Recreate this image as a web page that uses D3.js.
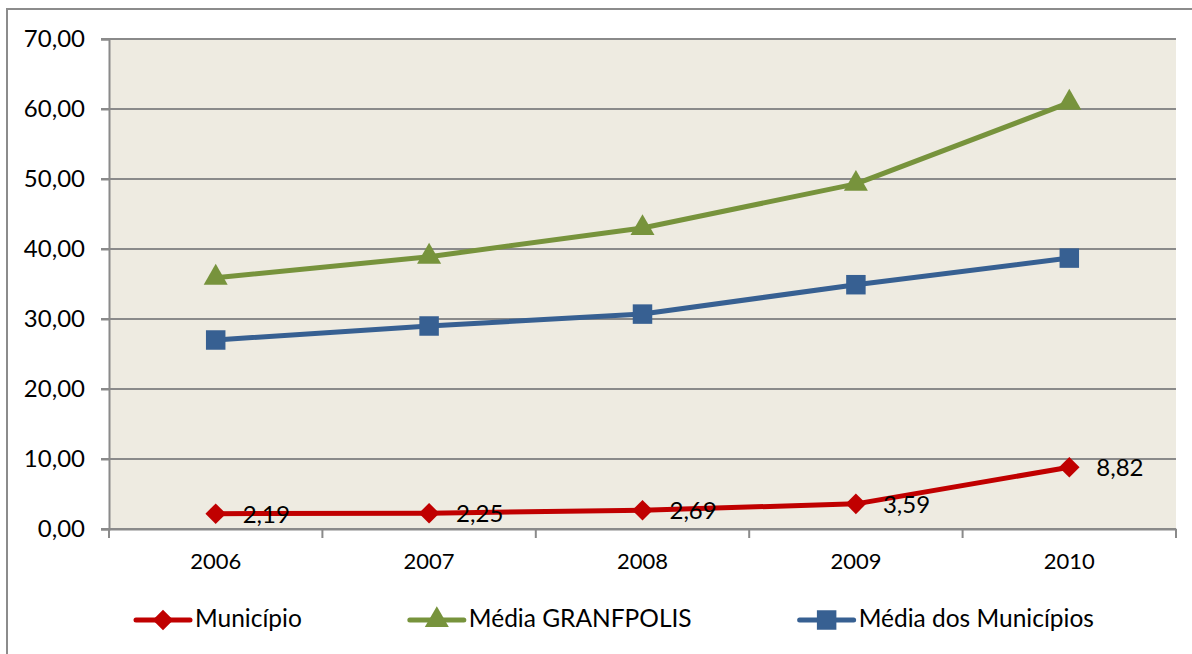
<!DOCTYPE html>
<html>
<head>
<meta charset="utf-8">
<script src="https://cdn.jsdelivr.net/npm/d3@7"></script>
<style>
  html, body { margin: 0; padding: 0; background: #fff; }
  svg { display: block; font-family: Lato, "Open Sans", sans-serif; }
</style>
</head>
<body>
<div id="chart"></div>
<script>
const years = ['2006', '2007', '2008', '2009', '2010'];
const municipio = [2.19, 2.25, 2.69, 3.59, 8.82];
const mediaGranfpolis = [35.9, 38.9, 43.0, 49.3, 60.9];
const mediaMunicipios = [27.0, 29.0, 30.7, 34.9, 38.7];
const yTicks = [0, 10, 20, 30, 40, 50, 60, 70];

const series = [
    { name: 'Município', values: municipio, color: '#C00000', symbol: d3.symbolDiamond2, size: 270, labels: true },
    { name: 'Média GRANFPOLIS', values: mediaGranfpolis, color: '#77933C', symbol: d3.symbolTriangle, size: 250, labels: false },
    { name: 'Média dos Municípios', values: mediaMunicipios, color: '#376092', symbol: d3.symbolSquare, size: 380, labels: false }
];

const w = 1192;
const h = 654;
const m = { left: 109, right: 16, top: 39, bottom: 125 };
const fmt = v => v.toFixed(2).replace('.', ',');

const svg = d3.select('#chart').append('svg').attr('width', w).attr('height', h);

// outer chart border
svg.append('rect').attr('x', 7).attr('y', 9).attr('width', 1200).attr('height', 700)
    .attr('fill', '#fff').attr('stroke', '#8c8c8c').attr('stroke-width', 2);

const xScale = d3.scaleBand().domain(years).range([m.left, w - m.right]).padding(0);
const yScale = d3.scaleLinear().domain([0, 70]).range([h - m.bottom, m.top]);

svg.append('rect')
    .attr('x', m.left).attr('y', m.top)
    .attr('width', w - m.right - m.left).attr('height', h - m.bottom - m.top)
    .attr('fill', '#EEEBE1');

// gridlines
svg.append('g').selectAll('line').data(yTicks).enter().append('line')
    .attr('x1', m.left - 8).attr('x2', w - m.right)
    .attr('y1', d => yScale(d)).attr('y2', d => yScale(d))
    .attr('stroke', '#8a8a8a').attr('stroke-width', 2);

const yAxis = d3.axisLeft(yScale).tickValues(yTicks).tickFormat(fmt).tickSize(8).tickPadding(16);
const gy = svg.append('g').attr('id', 'y-axis').attr('transform', `translate(${m.left},0)`).call(yAxis);
gy.select('.domain').attr('stroke', '#8a8a8a').attr('stroke-width', 2);
gy.selectAll('.tick line').attr('stroke', '#8a8a8a').attr('stroke-width', 2);
gy.selectAll('.tick text').attr('font-size', 24).attr('fill', '#000').attr('font-family', 'Lato');

const xAxis = d3.axisBottom(xScale).tickSize(0).tickPadding(24);
const gx = svg.append('g').attr('id', 'x-axis').attr('transform', `translate(0,${h - m.bottom})`).call(xAxis);
gx.select('.domain').attr('stroke', '#8a8a8a').attr('stroke-width', 2);
gx.selectAll('.tick text').attr('font-size', 22).attr('fill', '#000').attr('font-family', 'Lato');

// category boundary ticks
const bounds = years.map(d => xScale(d)).concat([xScale.range()[1]]);
svg.append('g').selectAll('line').data(bounds).enter().append('line')
    .attr('x1', d => d).attr('x2', d => d)
    .attr('y1', h - m.bottom).attr('y2', h - m.bottom + 9)
    .attr('stroke', '#8a8a8a').attr('stroke-width', 2);

const cx = d => xScale(d) + xScale.bandwidth() / 2;
const line = d3.line().x((d, i) => cx(years[i])).y(d => yScale(d));

series.forEach(s => {
    const g = svg.append('g');
    g.append('path').datum(s.values).attr('d', line)
        .attr('fill', 'none').attr('stroke', s.color).attr('stroke-width', 5)
        .attr('stroke-linejoin', 'round');
    g.selectAll('path.mk').data(s.values).enter().append('path').attr('class', 'mk')
        .attr('d', d3.symbol().type(s.symbol).size(s.size))
        .attr('transform', (d, i) => `translate(${cx(years[i])},${yScale(d)})`)
        .attr('fill', s.color);
    if (s.labels) {
        g.selectAll('text').data(s.values).enter().append('text')
            .attr('x', (d, i) => cx(years[i]) + 27)
            .attr('y', d => yScale(d) + 3)
            .attr('dominant-baseline', 'middle')
            .attr('font-size', 24).attr('fill', '#000')
            .text(fmt);
    }
});

// legend
const legend = svg.append('g').attr('transform', `translate(136,${620})`);
let xPos = 0;
series.forEach(s => {
    const item = legend.append('g').attr('transform', `translate(${xPos},0)`);
    item.append('line').attr('x1', 0).attr('x2', 54).attr('y1', 0).attr('y2', 0)
        .attr('stroke', s.color).attr('stroke-width', 5).attr('stroke-linecap', 'round');
    item.append('path').attr('d', d3.symbol().type(s.symbol).size(s.size))
        .attr('transform', 'translate(27,0)').attr('fill', s.color);
    const t = item.append('text').attr('x', 59).attr('y', 1).attr('dominant-baseline', 'middle')
        .attr('font-size', 24.5).attr('fill', '#000').text(s.name);
    xPos += 59 + t.node().getComputedTextLength() + 108;
});
</script>
</body>
</html>
